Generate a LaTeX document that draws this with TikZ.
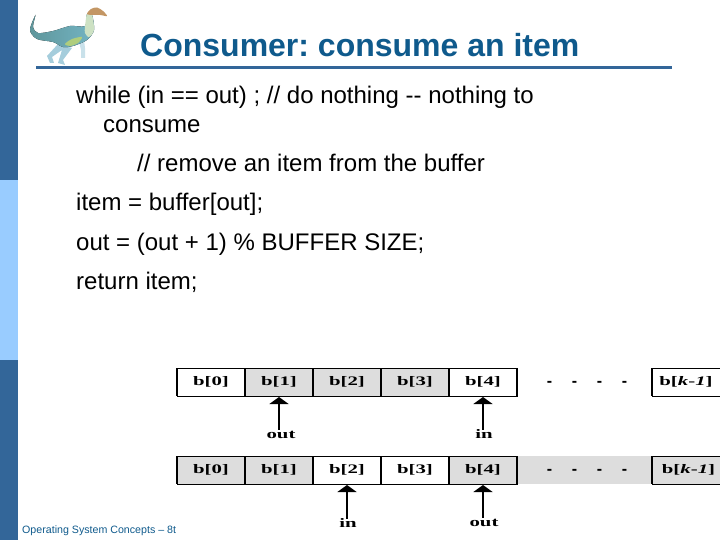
\documentclass[tikz,border=0pt]{standalone}
\usepackage{fontspec}
\setmainfont{Liberation Sans}
\newfontfamily\figfont{Liberation Serif}
\usetikzlibrary{arrows.meta}
\usetikzlibrary{positioning}
\definecolor{slidedark}{RGB}{51,102,153}
\definecolor{slidelight}{RGB}{153,204,255}
\definecolor{titleblue}{RGB}{15,90,140}
\definecolor{cellgray}{RGB}{221,221,221}
\definecolor{dinotail}{RGB}{95,150,155}
\definecolor{dinoback}{RGB}{115,180,195}
\definecolor{dinobelly}{RGB}{175,205,125}
\definecolor{dinoneck}{RGB}{205,225,195}
\definecolor{dinohead}{RGB}{195,150,100}
\definecolor{dinoleg}{RGB}{165,205,220}
\newcommand{\wide}[1]{\scalebox{1.6}[1]{#1}\hspace{3pt}}
\tikzset{
    bodytext/.style = {anchor=base west, inner sep=0pt, font=\fontsize{24}{28}\selectfont},
    cell/.style = {draw=black, line width=1pt, outer sep=0pt, minimum width=68pt, minimum height=28pt,
                   inner sep=0pt, font=\fontsize{13}{14}\selectfont\bfseries\figfont},
    used/.style = {cell, fill=cellgray},
    free/.style = {cell, fill=white},
    ptrlabel/.style = {inner sep=0pt, outer sep=2pt, text height=7pt, text depth=0pt,
                       font=\fontsize{13}{14}\selectfont\bfseries\figfont},
    ptr/.style = {line width=1.6pt, -{Triangle[width=19pt, length=7pt]}, shorten >=1pt},
    dots/.style = {inner sep=0pt, font=\fontsize{16}{16}\selectfont\bfseries}
}

\begin{document}
\frenchspacing
\begin{tikzpicture}[x=1pt, y=-1pt]
    \useasboundingbox (0,0) rectangle (720,540);

    % side strip
    \fill[slidedark]  (0,0)   rectangle (18,180);
    \fill[slidelight] (0,180) rectangle (18,360);
    \fill[slidedark]  (0,360) rectangle (18,540);

    % dinosaur legs
    \fill[dinoleg] (58,44) -- (47,56) -- (50,63) -- (54,63) -- (52,57) -- (62,50)
                -- (58,63) -- (65,65) -- (63,60) -- (72,48) -- cycle;
    \fill[dinoleg!60!white] (79,42) -- (81,50) -- (81,58) -- (85,58) -- (85,48) -- (84,40) -- cycle;
    % dinosaur body
    \fill[left color=dinotail, right color=dinoback]
        plot[smooth cycle, tension=0.5] coordinates {(35.5,15) (30,30) (37,39) (53,42) (63,47) (73,46)
            (87,40) (94,30) (92,15) (87,14) (85,26) (70,26) (53,31) (38,33) (33,27)};
    % belly and neck
    \fill[dinobelly] plot[smooth cycle] coordinates {(65,44) (72,39) (82,37) (78,43) (70,46)};
    \fill[dinoneck] plot[smooth cycle, tension=0.5] coordinates {(85,27) (87,14) (92,15) (94,30) (89,37) (85,33)};
    % dinosaur head
    \fill[dinohead] plot[smooth cycle, tension=0.5] coordinates {(87,14) (91,9) (97,7.5) (103,11) (107,16) (100,15) (93,15)};

    % title
    \node[anchor=west, inner sep=0pt, text=titleblue, font=\fontsize{32}{34}\selectfont\bfseries] (title) at (140,45) {Consumer: consume an item};
    \fill[slidedark] (36,66.5) rectangle (672,69);

    % code lines
    \node[bodytext] (line1)  at (76,104)  {while (in == out) ; // do nothing -{}- nothing to};
    \node[bodytext] (line1b) at (103,133) {consume};
    \node[bodytext] (line2)  at (137,172) {// remove an item from the buffer};
    \node[bodytext] (line3)  at (76,211)  {item = buffer[out];};
    \node[bodytext] (line4)  at (76,250)  {out = (out + 1) \% BUFFER SIZE;};
    \node[bodytext] (line5)  at (76,289)  {return item;};

    % footer, cut off by the figure
    \node[anchor=west, inner sep=0pt, text=titleblue, font=\fontsize{10.65}{12}\selectfont] (footer) at (22,530.5) {Operating System Concepts – 8th};
    \fill[white] (175.5,490) rectangle (340,540);

    % upper buffer
    \node[free] (a0) at (211,382) {\wide{b[0]}};
    \node[used, right=0pt of a0] (a1) {\wide{b[1]}};
    \node[used, right=0pt of a1] (a2) {\wide{b[2]}};
    \node[used, right=0pt of a2] (a3) {\wide{b[3]}};
    \node[free, right=0pt of a3] (a4) {\wide{b[4]}};
    \node[free] (ak) at (686,382) {\wide{b[\textit{k}-\textit{1}]}};
    \node[dots] (adots) at (587,384) {-\hspace{19.7pt}-\hspace{19.7pt}-\hspace{19.7pt}-};

    % lower buffer
    \fill[cellgray] (517,456) rectangle (652,484);
    \node[used] (b0) at (211,470) {\wide{b[0]}};
    \node[used, right=0pt of b0] (b1) {\wide{b[1]}};
    \node[free, right=0pt of b1] (b2) {\wide{b[2]}};
    \node[free, right=0pt of b2] (b3) {\wide{b[3]}};
    \node[used, right=0pt of b3] (b4) {\wide{b[4]}};
    \node[used] (bk) at (686,470) {\hspace{5pt}\wide{b[\textit{k}-\textit{1}]}};
    \node[dots] (bdots) at (587,472) {-\hspace{19.7pt}-\hspace{19.7pt}-\hspace{19.7pt}-};

    % thick cell sides
    \foreach \n in {a0,a1,a2,a3,a4,ak,b0,b1,b2,b3,b4,bk} {
        \draw[line width=2pt] (\n.north west) -- (\n.south west);
    }
    \draw[line width=2pt] (a4.north east) -- (a4.south east);
    \draw[line width=2pt] (b4.north east) -- (b4.south east);

    % pointers
    \node[ptrlabel] (aout) at (281,435) {\wide{out}};
    \node[ptrlabel] (ain)  at (484,435) {\wide{in}};
    \node[ptrlabel] (bin)  at (348,524) {\wide{in}};
    \node[ptrlabel] (bout) at (484,523) {\wide{out}};
    \draw[ptr] (aout.north -| a1.south) -- (a1.south);
    \draw[ptr] (ain.north -| a4.south) -- (a4.south);
    \draw[ptr] (bin.north -| b2.south) -- (b2.south);
    \draw[ptr] (bout.north -| b4.south) -- (b4.south);
\end{tikzpicture}
\end{document}
